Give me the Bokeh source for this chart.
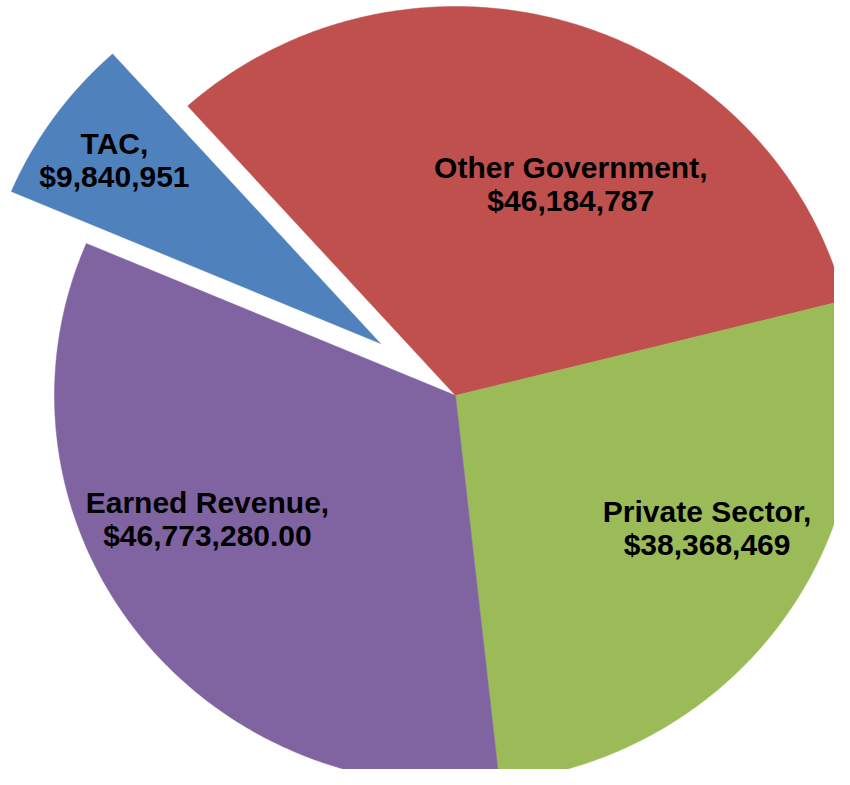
import numpy as np
from bokeh.plotting import figure
from bokeh.models import Range1d, ColumnDataSource
from bokeh.core.properties import value
from bokeh.embed import file_html
from bokeh.resources import INLINE

# ---- data ----
categories = ["TAC", "Other Government", "Private Sector", "Earned Revenue"]
amounts = [9840951, 46184787, 38368469, 46773280]
amount_labels = ["$9,840,951", "$46,184,787", "$38,368,469", "$46,773,280.00"]

# ---- style ----
colors = ["#4F81BD", "#C0504D", "#9BBB59", "#8064A2"]
explode = [0.23, 0.0, 0.0, 0.0]
start_deg = 157.0          # first slice starts here, slices go clockwise
label_r = [0.8, 0.6, 0.6, 0.6]
label_dx = [-5, 45, 54, -55]    # screen px nudges
label_dy = [3, -12, 1, 16]      # screen px (positive = up)

W, H = 834, 769
cx_px, cy_px = 455, 395     # pie centre in figure pixels (from top-left)
sx, sy = 401.0, 389.0       # pixels per data unit

p = figure(width=W, height=H, output_backend="svg", toolbar_location=None,
           x_range=Range1d(-cx_px / sx, (W - cx_px) / sx),
           y_range=Range1d(-(H - cy_px) / sy, cy_px / sy),
           min_border=0)
p.axis.visible = False
p.grid.visible = False
p.outline_line_color = None
p.background_fill_color = "white"
p.border_fill_color = "white"

vals = np.array(amounts, dtype=float)
fracs = vals / vals.sum()
ends = np.radians(start_deg) - 2 * np.pi * np.cumsum(fracs)
starts = np.concatenate([[np.radians(start_deg)], ends[:-1]])

xs, ys, lx, ly, texts = [], [], [], [], []
for i in range(len(vals)):
    mid = (starts[i] + ends[i]) / 2
    ox, oy = explode[i] * np.cos(mid), explode[i] * np.sin(mid)
    t = np.linspace(starts[i], ends[i], 200)
    xs.append(np.concatenate([[ox], ox + np.cos(t)]))
    ys.append(np.concatenate([[oy], oy + np.sin(t)]))
    lx.append(ox + label_r[i] * np.cos(mid))
    ly.append(oy + label_r[i] * np.sin(mid))
    texts.append(categories[i] + ",\n" + amount_labels[i])

p.patches(xs, ys, fill_color=colors, line_color=colors, line_width=0.5)

src = ColumnDataSource(dict(x=lx, y=ly, text=texts, dx=label_dx,
                            dy=[-d for d in label_dy]))
p.text(x="x", y="y", text="text", source=src, x_offset="dx", y_offset="dy",
       text_align="center", text_baseline="middle",
       text_font=value("Liberation Sans"), text_font_style="bold",
       text_font_size="30px", text_color="#000000", text_line_height=1.0)

open("out.html", "w").write(file_html(p, INLINE))
